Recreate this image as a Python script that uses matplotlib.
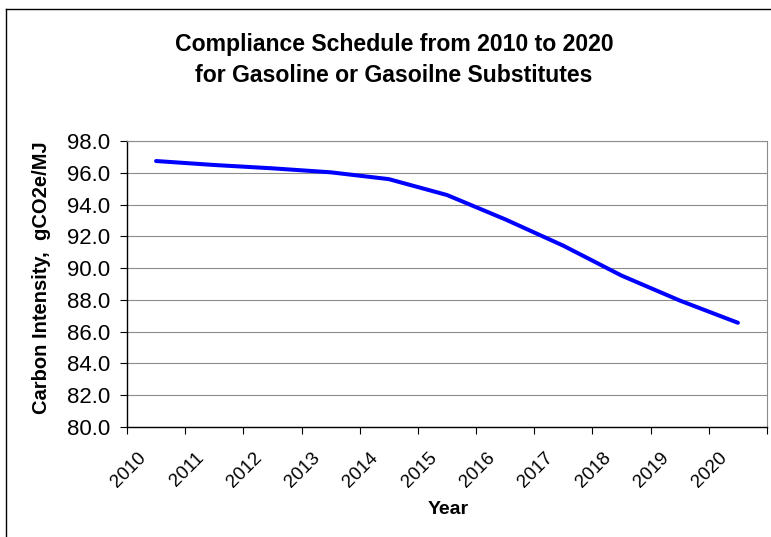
import matplotlib
matplotlib.use("Agg")
import matplotlib.pyplot as plt
import matplotlib.transforms as mtransforms
from matplotlib.lines import Line2D
import numpy as np

plt.rcParams['font.family'] = ['Liberation Sans', 'DejaVu Sans']

years = ['2010', '2011', '2012', '2013', '2014', '2015',
         '2016', '2017', '2018', '2019', '2020']
carbon_intensity = [96.74, 96.49, 96.28, 96.03, 95.60, 94.60,
                    93.07, 91.41, 89.53, 87.96, 86.56]
y_ticks = [80.0, 82.0, 84.0, 86.0, 88.0, 90.0, 92.0, 94.0, 96.0, 98.0]

W, H = 771, 537
fig = plt.figure(figsize=(W / 100, H / 100), dpi=100)

# plot area in pixels: left 127, right 767, top 141, bottom 427
ax = fig.add_axes([127 / W, 1 - 427 / H, 640 / W, 286 / H])

x = np.arange(len(years))
ax.plot(x, carbon_intensity, color='#0000ff', linewidth=2.9,
        solid_joinstyle='round', solid_capstyle='round', zorder=3)

ax.set_xlim(-0.5, len(years) - 0.5)
ax.set_ylim(80, 98)
ax.set_yticks(y_ticks)
ax.set_yticklabels(['{:.1f}'.format(v) for v in y_ticks], fontsize=16)
ax.yaxis.grid(True, color='#8c8c8c', linewidth=0.8)
ax.set_axisbelow(True)

# category ticks sit between the years, labels at the centers
ax.set_xticks(np.arange(-0.5, len(years)), minor=True)
ax.set_xticks(x)
ax.set_xticklabels(years, fontsize=13.5, rotation=45, ha='right', va='top')
ax.tick_params(axis='x', which='major', length=0, pad=16)
ax.tick_params(axis='x', which='minor', direction='out', length=5,
               width=0.8, color='black')
ax.tick_params(axis='y', direction='out', length=5, width=0.8,
               color='black', pad=7)
shift = mtransforms.ScaledTranslation(-7 / 100, 0, fig.dpi_scale_trans)
for lab in ax.get_xticklabels():
    lab.set_transform(lab.get_transform() + shift)

for side in ['top', 'right']:
    ax.spines[side].set_color('#8c8c8c')
    ax.spines[side].set_linewidth(0.8)
for side in ['left', 'bottom']:
    ax.spines[side].set_color('black')
    ax.spines[side].set_linewidth(1.0)

fig.text(42 / W, 1 - 278 / H, 'Carbon Intensity,  gCO2e/MJ', rotation=90,
         ha='center', va='center', fontsize=14.5, fontweight='bold')
fig.text(448 / W, 1 - 510 / H, 'Year', ha='center', va='center',
         fontsize=14, fontweight='bold')
fig.text(394 / W, 1 - 60 / H,
         'Compliance Schedule from 2010 to 2020\nfor Gasoline or Gasoilne Substitutes',
         ha='center', va='center', fontsize=16.6, fontweight='bold',
         linespacing=1.42)

# outer chart frame (only left and top edges fall inside the picture)
fig.add_artist(Line2D([6 / W, 6 / W], [0, 1 - 9 / H], color='black',
                      linewidth=1.0, transform=fig.transFigure))
fig.add_artist(Line2D([6 / W, 1], [1 - 9 / H, 1 - 9 / H], color='black',
                      linewidth=1.0, transform=fig.transFigure))

fig.savefig('out.png', dpi=100, facecolor='white')
